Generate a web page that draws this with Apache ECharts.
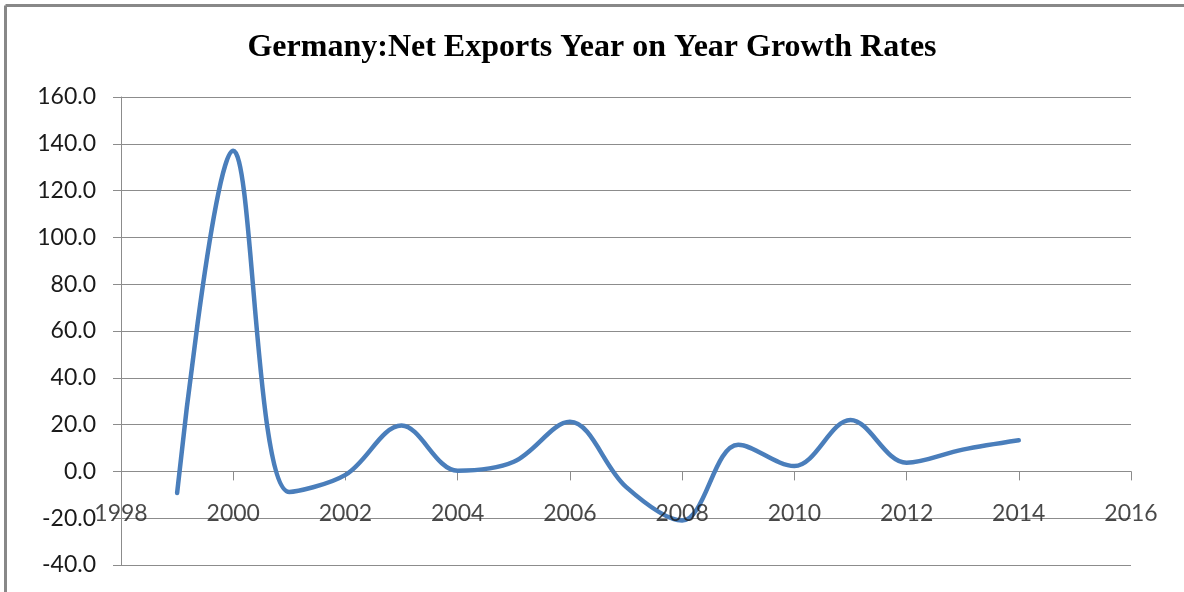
<!DOCTYPE html>
<html>
<head>
<meta charset="utf-8">
<script src="https://cdn.jsdelivr.net/npm/echarts@6/dist/echarts.min.js"></script>
<style>
  html, body { margin: 0; padding: 0; background: #fff; }
  #chart { width: 1184px; height: 592px; }
</style>
</head>
<body>
<div id="chart"></div>
<script>
// Germany: net exports, year-on-year growth (%)
const years = [1999, 2000, 2001, 2002, 2003, 2004, 2005, 2006, 2007, 2008, 2009, 2010, 2011, 2012, 2013, 2014];
const growth = [-9.2, 137.0, -8.8, -1.5, 19.6, 0.3, 4.1, 21.2, -6.6, -21.0, 11.4, 2.3, 22.0, 3.7, 9.3, 13.3];
const yTicks = { min: -40, max: 160, step: 20 };
const xTicks = { min: 1998, max: 2016, step: 2 };
const xTickLabels = ['1998', '2000', '2002', '2004', '2006', '2008', '2010', '2012', '2014', '2016'];

const points = years.map((y, i) => [y, growth[i]]);
// year labels sit just under the zero line, where the year axis crosses
const yearLabelPoints = xTickLabels.map(t => ({ name: t, value: [Number(t), 0] }));

const labelFont = 'Lato, "Open Sans", sans-serif';

const chart = echarts.init(document.getElementById('chart'), null, { renderer: 'canvas' });
chart.setOption({
  animation: false,
  backgroundColor: '#ffffff',
  title: {
    text: 'Germany:Net Exports Year on Year Growth Rates',
    left: 'center',
    top: 27,
    textStyle: {
      fontFamily: '"Liberation Serif", "Times New Roman", serif',
      fontWeight: 'bold',
      fontSize: 32,
      color: '#000000'
    }
  },
  grid: { left: 121, right: 53, top: 97, bottom: 27, containLabel: false, outerBoundsMode: 'none' },
  xAxis: {
    type: 'value',
    min: xTicks.min,
    max: xTicks.max,
    interval: xTicks.step,
    axisLine: { onZero: true, lineStyle: { color: '#8c8c8c', width: 1 } },
    axisTick: { show: true, inside: false, length: 9, lineStyle: { color: '#8c8c8c' } },
    axisLabel: { show: false },
    splitLine: { show: false }
  },
  yAxis: {
    type: 'value',
    min: yTicks.min,
    max: yTicks.max,
    interval: yTicks.step,
    axisLine: { show: true, lineStyle: { color: '#8c8c8c', width: 1 } },
    axisTick: { show: true, inside: false, length: 8, lineStyle: { color: '#8c8c8c' } },
    axisLabel: {
      margin: 25,
      color: '#1a1a1a',
      fontFamily: labelFont,
      fontSize: 23,
      formatter: v => v.toFixed(1)
    },
    splitLine: { show: true, lineStyle: { color: '#8c8c8c', width: 1 } }
  },
  series: [
    {
      type: 'line',
      data: points,
      smooth: 0.35,
      symbol: 'none',
      lineStyle: { color: '#4a7ebb', width: 4.5, cap: 'round', join: 'round' },
      z: 5
    },
    {
      type: 'scatter',
      data: yearLabelPoints,
      symbolSize: 0,
      silent: true,
      z: 6,
      label: {
        show: true,
        position: 'inside',
        offset: [0, 42],
        formatter: p => p.name,
        color: '#1a1a1a',
        fontFamily: labelFont,
        fontSize: 23
      }
    }
  ],
  graphic: [
    { type: 'line', shape: { x1: 5.5, y1: 5.5, x2: 1184, y2: 5.5 }, style: { stroke: '#888888', lineWidth: 3 } },
    { type: 'line', shape: { x1: 5.5, y1: 5.5, x2: 5.5, y2: 592 }, style: { stroke: '#888888', lineWidth: 3 } }
  ]
});
</script>
</body>
</html>
